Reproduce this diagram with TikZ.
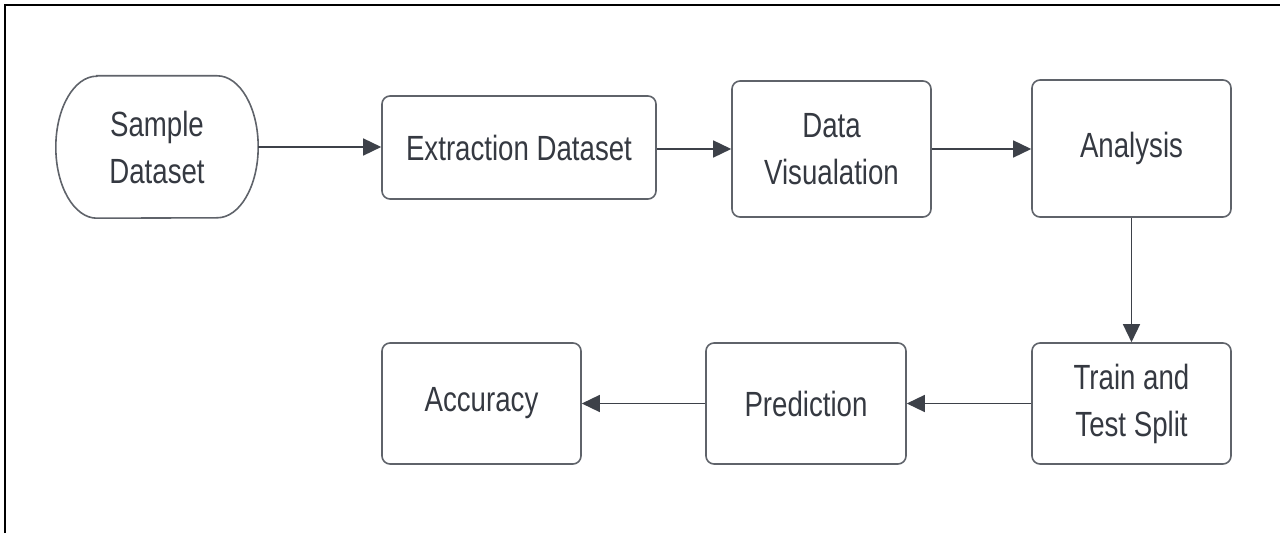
\documentclass[tikz,border=0pt]{standalone}
\usepackage{fontspec}
\setmainfont[FakeStretch=0.79]{Liberation Sans}
\usetikzlibrary{arrows.meta}

\definecolor{boxline}{HTML}{5F636A}
\definecolor{ink}{HTML}{353941}
\definecolor{wire}{HTML}{3D4149}

\tikzset{
  stepbox/.style={
    draw=boxline, line width=1.6pt, rounded corners=8pt,
    text=ink, align=center, inner sep=0pt,
    font=\fontsize{35}{47}\selectfont
  },
  startbox/.style={
    draw=none, text=ink, align=center, inner sep=0pt,
    font=\fontsize{35}{47}\selectfont
  },
  flow/.style={
    draw=wire, line width=1.5pt,
    -{Triangle[length=18pt,width=17pt]}
  }
}

\begin{document}
\begin{tikzpicture}[x=1pt,y=1pt]
  \useasboundingbox (0,0) rectangle (1280,533);

  % frame edges
  \draw[black, line width=2.2pt] (5,0) -- (5,528) -- (1280,528);

  % start terminal with elliptical ends
  \node[startbox, minimum width=202pt, minimum height=142pt] (sample) at (157,386) {Sample\\Dataset};
  \draw[boxline, line width=1.6pt]
    ([xshift=41pt]sample.north west) -- ([xshift=-41pt]sample.north east)
    arc[start angle=90, end angle=-90, x radius=41pt, y radius=71pt]
    -- ([xshift=41pt]sample.south west)
    arc[start angle=270, end angle=90, x radius=41pt, y radius=71pt]
    -- cycle;

  % process steps
  \node[stepbox, minimum width=274pt, minimum height=103pt] (extract) at (519,385.5) {Extraction Dataset};
  \node[stepbox, minimum width=199pt, minimum height=136pt] (visual) at (831.5,384) {Data\\Visualation};
  \node[stepbox, minimum width=199pt, minimum height=137pt] (analysis) at (1131.5,384.5) {Analysis};
  \node[stepbox, minimum width=199pt, minimum height=121pt] (split) at (1131.5,129.5) {Train and\\Test Split};
  \node[stepbox, minimum width=200pt, minimum height=121pt] (predict) at (806,129.5) {Prediction};
  \node[stepbox, minimum width=199pt, minimum height=121pt] (accuracy) at (481.5,129.5) {Accuracy};

  % connectors
  \draw[flow] (sample.east) -- (extract.west |- sample.east);
  \draw[flow] (extract.east |- visual.west) -- (visual.west);
  \draw[flow] (visual.east) -- (analysis.west |- visual.east);
  \draw[flow] (analysis.south) -- (split.north);
  \draw[flow] (split.west) -- (predict.east);
  \draw[flow] (predict.west) -- (accuracy.east);
\end{tikzpicture}
\end{document}
